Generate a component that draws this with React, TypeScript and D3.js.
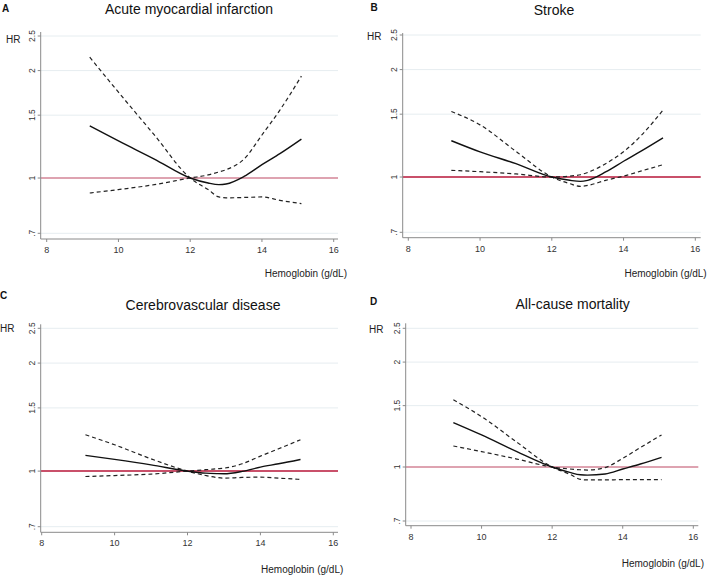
import React from 'react'
import { scaleLinear, scaleLog, line, curveMonotoneX } from 'd3'

// hemoglobin grid (g/dL) shared by all four splines
const hgb = [9.2, 10, 11, 12, 12.5, 12.8, 13, 13.5, 14, 14.5, 15.1]

// HR and the two dashed confidence limits; the limits cross at the reference (12 g/dL)
const amiHR = [1.40, 1.27, 1.13, 1.0, 0.968, 0.958, 0.962, 1.01, 1.09, 1.17, 1.285]
const amiCi1 = [2.18, 1.74, 1.32, 1.0, 0.928, 0.885, 0.88, 0.882, 0.885, 0.866, 0.848]
const amiCi2 = [0.908, 0.928, 0.958, 1.0, 1.02, 1.04, 1.055, 1.13, 1.32, 1.55, 1.93]

const strokeHR = [1.264, 1.176, 1.09, 1.0, 0.979, 0.972, 0.979, 1.033, 1.107, 1.184, 1.288]
const strokeCi1 = [1.526, 1.40, 1.18, 1.0, 0.958, 0.941, 0.947, 0.979, 1.006, 1.04, 1.083]
const strokeCi2 = [1.044, 1.035, 1.02, 1.0, 1.006, 1.015, 1.03, 1.09, 1.177, 1.31, 1.54]

const cvdHR = [1.106, 1.078, 1.041, 1.0, 0.987, 0.984, 0.983, 0.998, 1.026, 1.048, 1.078]
const cvdCi1 = [1.263, 1.184, 1.082, 1.0, 0.972, 0.96, 0.956, 0.96, 0.962, 0.956, 0.948]
const cvdCi2 = [0.966, 0.972, 0.981, 1.0, 1.009, 1.015, 1.019, 1.048, 1.101, 1.154, 1.223]

const mortHR = [1.341, 1.236, 1.107, 1.0, 0.965, 0.95, 0.948, 0.955, 0.987, 1.02, 1.066]
const mortCi1 = [1.559, 1.395, 1.178, 1.0, 0.953, 0.922, 0.918, 0.918, 0.92, 0.92, 0.92]
const mortCi2 = [1.149, 1.107, 1.054, 1.0, 0.987, 0.982, 0.98, 0.996, 1.059, 1.137, 1.236]

const xTicks = [8, 10, 12, 14, 16]
const yTicks = [0.7, 1, 1.5, 2, 2.5]
const yTickLabels = ['.7', '1', '1.5', '2', '2.5']

const font = '"Liberation Sans", Arial, sans-serif'

// per-panel geometry (pixels)
const panels = [
  {
    letter: 'A', title: 'Acute myocardial infarction', hr: amiHR, ci1: amiCi1, ci2: amiCi2,
    axisX: 40.7, x8: 46.7, x16: 333.7, gridRight: 338, y25: 36, y07: 233.3, axisTop: 32, axisBottom: 239,
    titleX: 189, titleY: 14, letterX: 2, letterY: 12, hrX: 6, hrY: 42.5, hgbX: 347, hgbY: 277, refW: 1.2,
  },
  {
    letter: 'B', title: 'Stroke', hr: strokeHR, ci1: strokeCi1, ci2: strokeCi2,
    axisX: 402.7, x8: 408.3, x16: 695.3, gridRight: 700.7, y25: 35, y07: 232.3, axisTop: 33, axisBottom: 237.7,
    titleX: 554, titleY: 15, letterX: 370.5, letterY: 11, hrX: 367, hrY: 39.5, hgbX: 706.7, hgbY: 277, refW: 2,
  },
  {
    letter: 'C', title: 'Cerebrovascular disease', hr: cvdHR, ci1: cvdCi1, ci2: cvdCi2,
    axisX: 40.7, x8: 41.7, x16: 333.3, gridRight: 338, y25: 328.3, y07: 526.7, axisTop: 324.3, axisBottom: 532.3,
    titleX: 203, titleY: 310, letterX: 0, letterY: 299, hrX: 0, hrY: 331.7, hgbX: 343.3, hgbY: 573, refW: 2,
  },
  {
    letter: 'D', title: 'All-cause mortality', hr: mortHR, ci1: mortCi1, ci2: mortCi2,
    axisX: 405.7, x8: 411, x16: 693.3, gridRight: 698.3, y25: 328.3, y07: 521, axisTop: 323.3, axisBottom: 525.7,
    titleX: 572.7, titleY: 309, letterX: 370, letterY: 305, hrX: 369, hrY: 333, hgbX: 704, hgbY: 567, refW: 1.2,
  },
]

const Panel = ({ p }) => {
  const x = scaleLinear().domain([8, 16]).range([p.x8, p.x16])
  const y = scaleLog().domain([0.7, 2.5]).range([p.y07, p.y25])
  const gen = line().x(d => x(d[0])).y(d => y(d[1])).curve(curveMonotoneX)
  const pts = vals => hgb.map((h, i) => [h, vals[i]])

  return (
    <g>
      {/* gridlines */}
      {yTicks.map(t => (
        <line key={'g' + t} x1={p.axisX} x2={p.gridRight} y1={y(t)} y2={y(t)} stroke="#e6edf0" strokeWidth={1} />
      ))}
      {/* reference line */}
      <line x1={p.axisX} x2={p.gridRight} y1={y(1)} y2={y(1)} stroke="#c9506a" strokeWidth={p.refW} />

      {/* axes */}
      <line x1={p.axisX} x2={p.axisX} y1={p.axisTop} y2={p.axisBottom} stroke="#8a8a8a" strokeWidth={1} />
      <line x1={p.axisX} x2={p.gridRight} y1={p.axisBottom} y2={p.axisBottom} stroke="#8a8a8a" strokeWidth={1} />
      {yTicks.map((t, i) => (
        <g key={'y' + t}>
          <line x1={p.axisX - 3} x2={p.axisX} y1={y(t)} y2={y(t)} stroke="#8a8a8a" />
          <text transform={`translate(${p.axisX - 6},${y(t)}) rotate(-90)`} textAnchor="middle"
            fontSize={8.5} fill="#333" fontFamily={font}>{yTickLabels[i]}</text>
        </g>
      ))}
      {xTicks.map(t => (
        <g key={'x' + t}>
          <line x1={x(t)} x2={x(t)} y1={p.axisBottom} y2={p.axisBottom + 3} stroke="#8a8a8a" />
          <text x={x(t)} y={p.axisBottom + 14} textAnchor="middle" fontSize={9} fill="#333" fontFamily={font}>{t}</text>
        </g>
      ))}

      {/* spline and confidence limits */}
      <path d={gen(pts(p.ci1))} fill="none" stroke="#222" strokeWidth={1.2} strokeDasharray="4,3" />
      <path d={gen(pts(p.ci2))} fill="none" stroke="#222" strokeWidth={1.2} strokeDasharray="4,3" />
      <path d={gen(pts(p.hr))} fill="none" stroke="#111" strokeWidth={1.4} />

      {/* labels */}
      <text x={p.letterX} y={p.letterY} fontSize={10} fontWeight="bold" fill="#111" fontFamily={font}>{p.letter}</text>
      <text x={p.titleX} y={p.titleY} textAnchor="middle" fontSize={14} fill="#111" fontFamily={font}>{p.title}</text>
      <text x={p.hrX} y={p.hrY} fontSize={10} fill="#222" fontFamily={font}>HR</text>
      <text x={p.hgbX} y={p.hgbY} textAnchor="end" fontSize={10} fill="#222" fontFamily={font}>Hemoglobin (g/dL)</text>
    </g>
  )
}

export default function App() {
  return (
    <svg width={709} height={576} style={{ position: 'absolute', left: 0, top: 0, background: '#fff' }}>
      {panels.map(p => <Panel key={p.letter} p={p} />)}
    </svg>
  )
}
